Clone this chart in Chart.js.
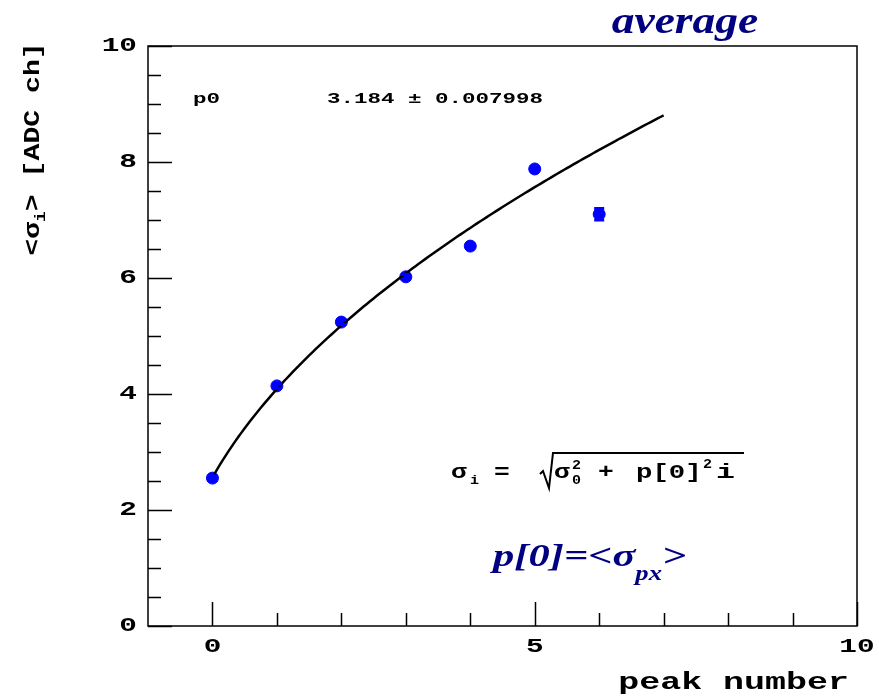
<!DOCTYPE html>
<html>
<head>
<meta charset="utf-8">
<style>
  html, body { margin: 0; padding: 0; background: #fff; }
  #wrap { width: 879px; height: 700px; position: relative; }
</style>
<script src="https://cdn.jsdelivr.net/npm/chart.js@4/dist/chart.umd.min.js"></script>
</head>
<body>
<div id="wrap"><canvas id="c" width="879" height="700"></canvas></div>
<script>
// Measured mean widths per peak
const peaks = [0, 1, 2, 3, 4, 5, 6];
const sigmaMean = [2.55, 4.14, 5.24, 6.02, 6.55, 7.88, 7.10];
const sigmaErr = [0.04, 0.04, 0.04, 0.04, 0.04, 0.04, 0.10];

// Fit parameters: sigma_i = sqrt(sigma0^2 + p0^2 * i)
const p0 = 3.184;
const p0Err = 0.007998;
const sigma0 = 2.56;
const fitRange = [0, 7];

// Axis ticks
const xLabels = [0, 5, 10];
const xMinor = [1, 2, 3, 4, 6, 7, 8, 9];
const yLabels = [0, 2, 4, 6, 8, 10];
const yMinorStep = 0.5;

const fitPoints = [];
for (let k = 0; k <= 140; k++) {
  const x = fitRange[0] + (fitRange[1] - fitRange[0]) * k / 140;
  fitPoints.push({ x, y: Math.sqrt(sigma0 * sigma0 + p0 * p0 * x) });
}

const MONO = '"Liberation Mono", "DejaVu Sans Mono", monospace';
const SERIF = '"Liberation Serif", "DejaVu Serif", serif';
const NAVY = '#000080';

// draw text squeezed/stretched horizontally; returns drawn width
function wideText(ctx, text, x, y, font, sx, align) {
  ctx.save();
  ctx.font = font;
  const w = ctx.measureText(text).width * sx;
  let left = x;
  if (align === 'right') left = x - w;
  else if (align === 'center') left = x - w / 2;
  ctx.translate(left, y);
  ctx.scale(sx, 1);
  ctx.textAlign = 'left';
  ctx.fillText(text, 0, 0);
  ctx.restore();
  return w;
}

// Frame, inward ticks, labels and annotations
const framePlugin = {
  id: 'frame',
  afterDraw(chart) {
    const ctx = chart.ctx;
    const a = chart.chartArea;
    const xs = chart.scales.x, ys = chart.scales.y;
    ctx.save();
    ctx.strokeStyle = '#000';
    ctx.lineWidth = 1.5;
    ctx.strokeRect(a.left, a.top, a.right - a.left, a.bottom - a.top);

    ctx.beginPath();
    for (let v = ys.min; v <= ys.max + 1e-9; v += yMinorStep) {
      const py = Math.round(ys.getPixelForValue(v)) + 0.5;
      const len = Math.abs(v % 2) < 1e-9 ? 24 : 13;
      ctx.moveTo(a.left, py);
      ctx.lineTo(a.left + len, py);
    }
    xLabels.concat(xMinor).forEach(v => {
      const px = Math.round(xs.getPixelForValue(v)) + 0.5;
      const len = xLabels.includes(v) ? 24 : 13;
      ctx.moveTo(px, a.bottom);
      ctx.lineTo(px, a.bottom - len);
    });
    ctx.stroke();

    ctx.fillStyle = '#000';
    ctx.textBaseline = 'middle';
    const tickFont = 'bold 21px ' + MONO;
    yLabels.forEach(v => wideText(ctx, String(v), a.left - 11, ys.getPixelForValue(v), tickFont, 1.4, 'right'));
    xLabels.forEach(v => wideText(ctx, String(v), xs.getPixelForValue(v), a.bottom + 21, tickFont, 1.4, 'center'));

    // axis titles
    wideText(ctx, 'peak number', 849, 683, 'bold 23px ' + MONO, 1.52, 'right');

    ctx.save();
    ctx.translate(33, 149);
    ctx.rotate(-Math.PI / 2);
    const big = 'bold 22px ' + MONO, sub = 'bold 14px ' + MONO, st = 1.28;
    ctx.font = big;
    const w1 = ctx.measureText('<\u03c3').width * st;
    const wr = ctx.measureText('> [ADC ch]').width * st;
    ctx.font = sub;
    const wi = ctx.measureText('i').width * st;
    const x0 = -(w1 + wi + wr) / 2;
    wideText(ctx, '<\u03c3', x0, 0, big, st, 'left');
    wideText(ctx, 'i', x0 + w1, 8, sub, st, 'left');
    wideText(ctx, '> [ADC ch]', x0 + w1 + wi, 0, big, st, 'left');
    ctx.restore();

    // fit parameter box text
    const statFont = 'bold 15px ' + MONO;
    wideText(ctx, 'p0', 193, 99, statFont, 1.5, 'left');
    wideText(ctx, p0.toFixed(3) + ' \u00b1 ' + p0Err.toFixed(6), 327, 99, statFont, 1.5, 'left');

    // fit formula
    const fy = 473;
    const ff = 'bold 21px ' + MONO, fs = 'bold 12px ' + MONO, fst = 1.25;
    wideText(ctx, '\u03c3', 451, fy, ff, fst, 'left');
    wideText(ctx, 'i', 470, fy + 8, fs, fst, 'left');
    wideText(ctx, '=', 494, fy, ff, fst, 'left');
    ctx.lineWidth = 2;
    ctx.beginPath();
    ctx.moveTo(540, fy + 1);
    ctx.lineTo(543, fy - 2);
    ctx.lineTo(549, fy + 15);
    ctx.lineTo(553, fy - 20);
    ctx.lineTo(744, fy - 20);
    ctx.stroke();
    wideText(ctx, '\u03c3', 554, fy, ff, fst, 'left');
    wideText(ctx, '2', 572, fy - 7, fs, fst, 'left');
    wideText(ctx, '0', 572, fy + 8, fs, fst, 'left');
    wideText(ctx, '+', 598, fy, ff, fst, 'left');
    wideText(ctx, 'p[0]', 636, fy, ff, 1.3, 'left');
    wideText(ctx, '2', 703, fy - 8, fs, fst, 'left');
    wideText(ctx, 'i', 716, fy, ff, 1.5, 'left');

    // navy annotations
    ctx.fillStyle = NAVY;
    ctx.textBaseline = 'alphabetic';
    wideText(ctx, 'average', 685, 33, 'italic bold 37px ' + SERIF, 1.23, 'center');

    const nf = 'italic bold 32px ' + SERIF, nsf = 'italic bold 20px ' + SERIF, ns = 1.33;
    let nx = 493;
    nx += wideText(ctx, 'p[0]=<\u03c3', nx, 566, nf, ns, 'left');
    nx += wideText(ctx, 'px', nx, 580, nsf, ns, 'left');
    wideText(ctx, '>', nx, 566, nf, ns, 'left');
    ctx.restore();
  }
};

// Vertical error bars for the measured points
const errorBarPlugin = {
  id: 'errorBars',
  afterDatasetsDraw(chart) {
    const ctx = chart.ctx;
    const xs = chart.scales.x, ys = chart.scales.y;
    ctx.save();
    ctx.strokeStyle = '#0000ff';
    ctx.lineWidth = 3;
    peaks.forEach((p, i) => {
      const px = xs.getPixelForValue(p);
      const top = ys.getPixelForValue(sigmaMean[i] + sigmaErr[i]);
      const bot = ys.getPixelForValue(sigmaMean[i] - sigmaErr[i]);
      ctx.beginPath();
      ctx.moveTo(px, top);
      ctx.lineTo(px, bot);
      ctx.moveTo(px - 5, top);
      ctx.lineTo(px + 5, top);
      ctx.moveTo(px - 5, bot);
      ctx.lineTo(px + 5, bot);
      ctx.stroke();
    });
    ctx.restore();
  }
};

new Chart(document.getElementById('c'), {
  type: 'scatter',
  data: {
    datasets: [
      {
        label: 'fit',
        type: 'line',
        data: fitPoints,
        borderColor: '#000',
        borderWidth: 2.5,
        pointRadius: 0,
        tension: 0,
        fill: false
      },
      {
        label: 'sigma',
        data: peaks.map((p, i) => ({ x: p, y: sigmaMean[i] })),
        backgroundColor: '#0000ff',
        borderColor: '#0000ff',
        pointRadius: 6,
        pointHoverRadius: 6
      }
    ]
  },
  options: {
    responsive: false,
    animation: false,
    events: [],
    layout: { padding: { left: 148, top: 46, right: 22, bottom: 74 } },
    plugins: { legend: { display: false }, tooltip: { enabled: false } },
    scales: {
      x: { type: 'linear', min: -1, max: 10, display: false },
      y: { type: 'linear', min: 0, max: 10, display: false }
    }
  },
  plugins: [framePlugin, errorBarPlugin]
});
</script>
</body>
</html>
